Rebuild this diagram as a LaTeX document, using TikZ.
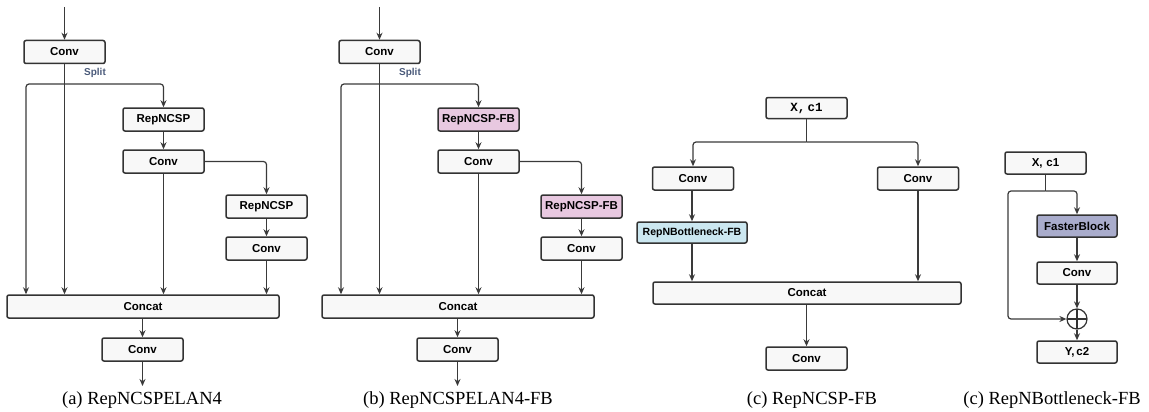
\documentclass[tikz,border=0pt]{standalone}
\usepackage{fontspec}
\setmainfont{Liberation Serif}
\setsansfont{Liberation Sans}
\setmonofont{Liberation Mono}
\usetikzlibrary{arrows.meta}
\definecolor{boxfill}{HTML}{F8F8F8}
\definecolor{boxline}{HTML}{333333}
\definecolor{wire}{HTML}{3A3A3A}
\definecolor{pinkfill}{HTML}{E8C8E0}
\definecolor{bluefill}{HTML}{CBE7F0}
\definecolor{slatefill}{HTML}{A9ACCC}
\definecolor{splitcol}{HTML}{4A5A7A}
\tikzset{
  blk/.style={draw=boxline, fill=boxfill, line width=1.5pt, rounded corners=2pt,
    inner sep=0pt, minimum height=23pt, minimum width=81pt,
    font=\sffamily\bfseries\fontsize{11.5}{13}\selectfont},
  pinkblk/.style={blk, fill=pinkfill},
  blueblk/.style={blk, fill=bluefill},
  slateblk/.style={blk, fill=slatefill},
  arr/.style={draw=wire, line width=1.2pt, -{Stealth[length=7pt,width=6pt]}},
  wireline/.style={draw=wire, line width=1.2pt},
  captxt/.style={font=\fontsize{18.5}{22}\selectfont, inner sep=0pt},
  splitlbl/.style={font=\sffamily\bfseries\fontsize{10}{12}\selectfont, text=splitcol, inner sep=0pt},
}
\begin{document}
\begin{tikzpicture}[x=1pt,y=-1pt]
\useasboundingbox (0,0) rectangle (1149,412);
% ---------- (a) ----------
\node[blk] (a_conv1) at (64.5,52) {Conv};
\node[blk] (a_rep1) at (163.5,119.5) {RepNCSP};
\node[blk] (a_conv2) at (163.5,161.5) {Conv};
\node[blk] (a_rep2) at (266.5,206.5) {RepNCSP};
\node[blk] (a_conv3) at (266.5,248.5) {Conv};
\node[blk, minimum width=272pt] (a_concat) at (143,306.5) {Concat};
\node[blk] (a_conv4) at (142.5,349.5) {Conv};
\node[splitlbl] (a_splitlbl) at (95,73) {Split};
\coordinate (a_in) at (64.5,7);
\coordinate (a_out) at (142.5,386);
\coordinate (a_split) at (64.5,84);
\coordinate (a_sl) at (26,84);
\draw[arr] (a_in) -- (a_conv1.north);
\draw[arr] (a_conv1.south) -- (a_conv1.south |- a_concat.north);
\draw[arr, rounded corners=3pt] (a_split) -| (a_rep1.north);
\draw[arr, rounded corners=3pt] (a_split) -- (a_sl) -- (a_sl |- a_concat.north);
\draw[arr] (a_rep1) -- (a_conv2);
\draw[arr] (a_conv2.south) -- (a_conv2.south |- a_concat.north);
\draw[arr, rounded corners=3pt] (a_conv2.east) -| (a_rep2.north);
\draw[arr] (a_rep2) -- (a_conv3);
\draw[arr] (a_conv3.south) -- (a_conv3.south |- a_concat.north);
\draw[arr] (a_conv4.north |- a_concat.south) -- (a_conv4.north);
\draw[arr] (a_conv4.south) -- (a_out);
\node[captxt] (a_cap) at (142,400) {(a) RepNCSPELAN4};
% ---------- (b) ----------
\node[blk] (b_conv1) at (379.5,52) {Conv};
\node[pinkblk] (b_rep1) at (478.5,119.5) {RepNCSP-FB};
\node[blk] (b_conv2) at (478.5,161.5) {Conv};
\node[pinkblk] (b_rep2) at (581.5,206.5) {RepNCSP-FB};
\node[blk] (b_conv3) at (581.5,248.5) {Conv};
\node[blk, minimum width=272pt] (b_concat) at (458,306.5) {Concat};
\node[blk] (b_conv4) at (457.5,349.5) {Conv};
\node[splitlbl] (b_splitlbl) at (410,73) {Split};
\coordinate (b_in) at (379.5,7);
\coordinate (b_out) at (457.5,386);
\coordinate (b_split) at (379.5,84);
\coordinate (b_sl) at (341,84);
\draw[arr] (b_in) -- (b_conv1.north);
\draw[arr] (b_conv1.south) -- (b_conv1.south |- b_concat.north);
\draw[arr, rounded corners=3pt] (b_split) -| (b_rep1.north);
\draw[arr, rounded corners=3pt] (b_split) -- (b_sl) -- (b_sl |- b_concat.north);
\draw[arr] (b_rep1) -- (b_conv2);
\draw[arr] (b_conv2.south) -- (b_conv2.south |- b_concat.north);
\draw[arr, rounded corners=3pt] (b_conv2.east) -| (b_rep2.north);
\draw[arr] (b_rep2) -- (b_conv3);
\draw[arr] (b_conv3.south) -- (b_conv3.south |- b_concat.north);
\draw[arr] (b_conv4.north |- b_concat.south) -- (b_conv4.north);
\draw[arr] (b_conv4.south) -- (b_out);
\node[captxt] (b_cap) at (458,400) {(b) RepNCSPELAN4-FB};
% ---------- (c) ----------
\node[blk, minimum height=21pt, font=\ttfamily\bfseries\fontsize{12.5}{14}\selectfont] (c_x) at (806.5,108) {X,\,c1};
\node[blk] (c_conv1) at (693,178.5) {Conv};
\node[blk] (c_conv2) at (918,178.5) {Conv};
\node[blueblk, minimum width=110pt, minimum height=21pt, font=\sffamily\bfseries\fontsize{10.5}{12}\selectfont] (c_rb) at (692,232.5) {RepNBottleneck-FB};
\node[blk, minimum width=308pt, minimum height=22pt] (c_concat) at (807,293) {Concat};
\node[blk] (c_conv3) at (806.5,358.5) {Conv};
\coordinate (c_split) at (806.5,142);
\draw[wireline] (c_x.south) -- (c_split);
\draw[arr, rounded corners=3pt] (c_split) -| (c_conv1.north);
\draw[arr, rounded corners=3pt] (c_split) -| (c_conv2.north);
\draw[arr] (c_conv1.south -| c_rb.north) -- (c_rb.north);
\draw[arr] (c_rb.south) -- (c_rb.south |- c_concat.north);
\draw[arr] (c_conv2.south) -- (c_conv2.south |- c_concat.north);
\draw[arr] (c_conv3.north |- c_concat.south) -- (c_conv3.north);
\node[captxt] (c_cap) at (812,400) {(c) RepNCSP-FB};
% ---------- (d) ----------
\node[blk, minimum height=22pt] (d_x) at (1045.5,163) {X,\,\,c1};
\node[slateblk, minimum width=80pt, minimum height=22pt] (d_fb) at (1077,226) {FasterBlock};
\node[blk, minimum width=80pt, minimum height=22pt] (d_conv) at (1077,273) {Conv};
\node[draw=boxline, line width=1.2pt, circle, minimum size=20pt, inner sep=0pt,
  path picture={\draw[boxline, line width=1.2pt]
    (path picture bounding box.north) -- (path picture bounding box.south)
    (path picture bounding box.west) -- (path picture bounding box.east);}] (d_add) at (1077,319) {};
\node[blk, minimum width=80pt, minimum height=22pt] (d_y) at (1077,352) {Y,\,c2};
\coordinate (d_split) at (1045.5,191);
\coordinate (d_sl) at (1008,191);
\draw[wireline] (d_x.south) -- (d_split);
\draw[arr, rounded corners=3pt] (d_split) -| (d_fb.north);
\draw[arr, rounded corners=3pt] (d_split) -- (d_sl) |- (d_add.west);
\draw[arr] (d_fb) -- (d_conv);
\draw[arr] (d_conv) -- (d_add);
\draw[arr] (d_add) -- (d_y);
\node[captxt] (d_cap) at (1052,400) {(c) RepNBottleneck-FB};
\end{tikzpicture}
\end{document}
